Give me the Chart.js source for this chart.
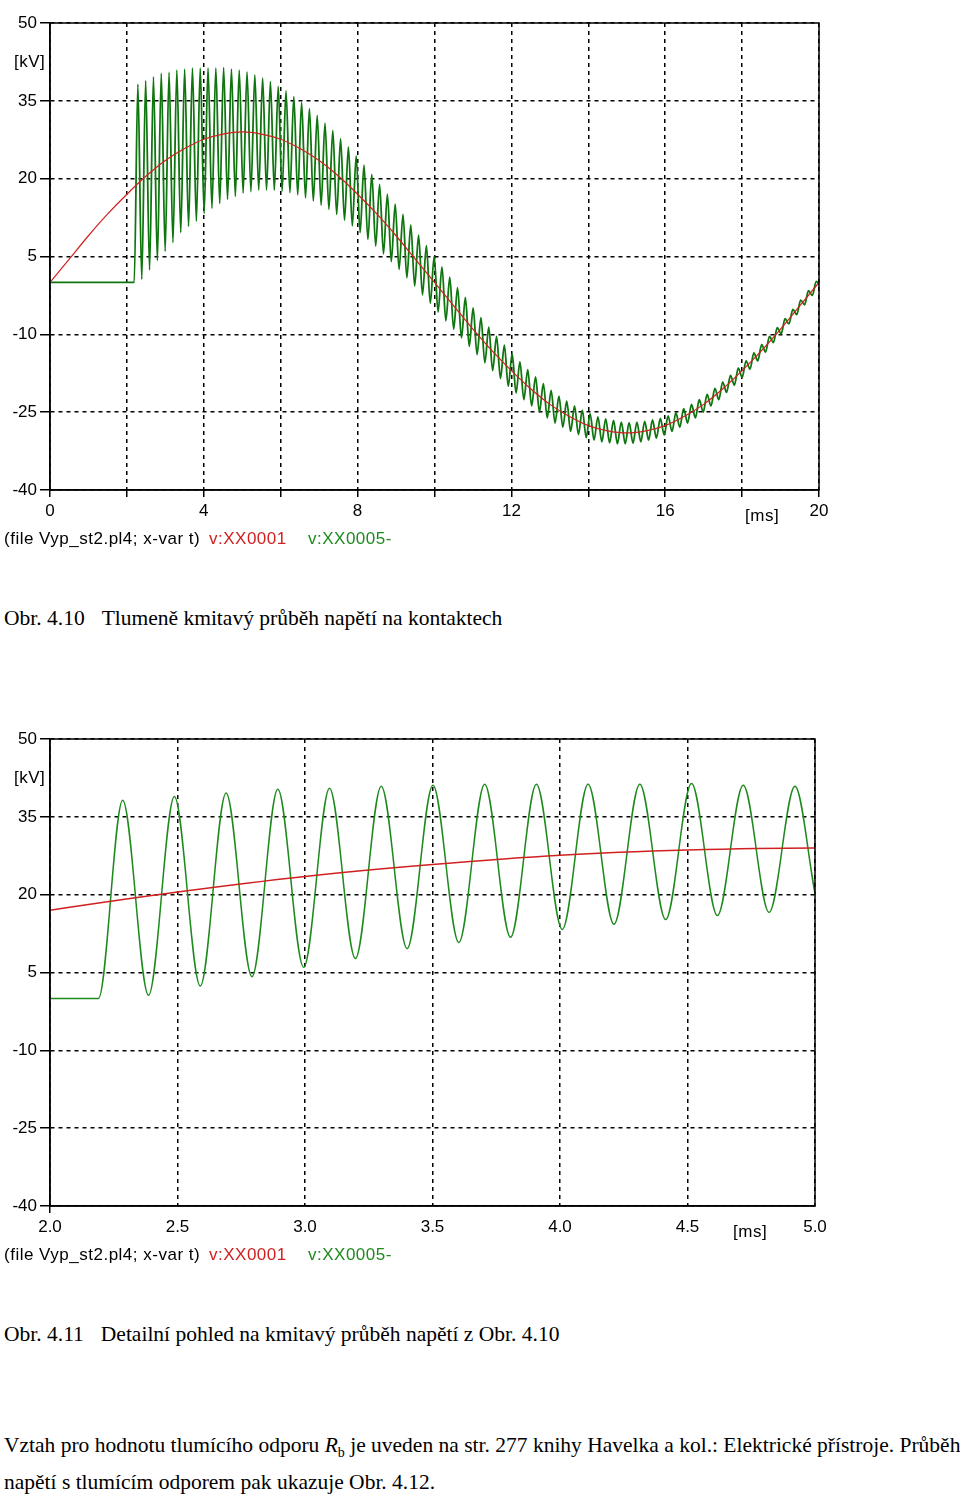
<!DOCTYPE html>
<html lang="cs">
<head>
<meta charset="utf-8">
<title>Obr. 4.10 a 4.11</title>
<script src="https://cdn.jsdelivr.net/npm/chart.js@4.4.0/dist/chart.umd.min.js"></script>
<style>
  body { margin: 0; background: #fff; width: 960px; height: 1496px; position: relative; overflow: hidden;
         font-family: "Liberation Sans", Arial, sans-serif; color: #000; }
  .panel { position: absolute; left: 0; width: 840px; height: 555px; }
  #p1 { top: 0; }
  #p2 { top: 716px; }
  canvas { position: absolute; left: 0; top: 0; }
  .lbl { position: absolute; font-size: 17px; letter-spacing: 0.5px; line-height: 20px; white-space: nowrap; }
  .red { color: #d02020; }
  .green { color: #1e8a1e; }
  .cap { position: absolute; left: 4px; font-family: "Liberation Serif", "Times New Roman", serif;
         font-size: 21.5px; line-height: 26px; white-space: nowrap; }
  .tab { display: inline-block; width: 17px; }
</style>
</head>
<body>

<div class="panel" id="p1">
  <canvas id="graf1" width="840" height="555"></canvas>
  <div class="lbl" style="left:14px; top:52px;">[kV]</div>
  <div class="lbl" style="left:745px; top:506px;">[ms]</div>
  <div class="lbl" style="left:4px; top:529px;">(file Vyp_st2.pl4; x-var t)</div>
  <div class="lbl red" style="left:209px; top:529px;">v:XX0001</div>
  <div class="lbl green" style="left:308px; top:529px;">v:XX0005-</div>
</div>
<div class="cap" style="top:605px;">Obr. 4.10<span class="tab"></span>Tlumeně kmitavý průběh napětí na kontaktech</div>

<div class="panel" id="p2">
  <canvas id="graf2" width="840" height="555"></canvas>
  <div class="lbl" style="left:14px; top:52px;">[kV]</div>
  <div class="lbl" style="left:733px; top:506px;">[ms]</div>
  <div class="lbl" style="left:4px; top:529px;">(file Vyp_st2.pl4; x-var t)</div>
  <div class="lbl red" style="left:209px; top:529px;">v:XX0001</div>
  <div class="lbl green" style="left:308px; top:529px;">v:XX0005-</div>
</div>
<div class="cap" style="top:1321px;">Obr. 4.11<span class="tab"></span>Detailní pohled na kmitavý průběh napětí z Obr. 4.10</div>

<div class="cap" style="top:1432px;">Vztah pro hodnotu tlumícího odporu <i>R</i><sub style="font-size:14px;">b</sub> je uveden na str. 277 knihy Havelka a kol.: Elektrické přístroje. Průběh</div>
<div class="cap" style="top:1469px;">napětí s tlumícím odporem pak ukazuje Obr. 4.12.</div>

<script>
// v:XX0001 - napeti site (cervena), odecteno po 0.5 ms
const redTimes = [0, 0.5, 1, 1.5, 2, 2.5, 3, 3.5, 4, 4.5, 5, 5.5, 6, 6.5, 7, 7.5, 8, 8.5, 9, 9.5, 10,
  10.5, 11, 11.5, 12, 12.5, 13, 13.5, 14, 14.5, 15, 15.5, 16, 16.5, 17, 17.5, 18, 18.5, 19, 19.5, 20];
const redValues = [0, 4.5, 9.0, 13.2, 17.0, 20.5, 23.5, 25.8, 27.6, 28.6, 29.0, 28.6, 27.6, 25.8, 23.5, 20.5, 17.0, 13.2, 9.0, 4.5, 0,
  -4.5, -9.0, -13.2, -17.0, -20.5, -23.5, -25.8, -27.6, -28.6, -29.0, -28.6, -27.6, -25.8, -23.5, -20.5, -17.0, -13.2, -9.0, -4.5, 0];

// v:XX0005- - napeti na kontaktech (zelena)
const greenFlatTimes = [0, 2.19];
const greenFlatValues = [0, 0];
const greenFirstPeak = 2.285;   // ms
const greenPeriod = 0.2028;     // ms, perioda kmitu
// vrcholy a minima kazdeho kmitu
const greenPeaks = [38.2, 38.9, 39.6, 40.3, 40.5, 40.9, 41.1, 41.3, 41.3, 41.3, 41.3, 41.4, 41.1, 40.9,
  40.6, 40.0, 39.4, 38.7, 37.8, 36.9, 35.8, 34.7, 33.5, 32.2, 30.7, 29.3, 27.7, 26.1, 24.4, 22.6,
  20.8, 18.9, 17.0, 15.1, 13.1, 11.1, 9.1, 7.1, 5.0, 3.0, 1.0, -1.0, -2.9, -4.9, -6.8, -8.6,
  -10.4, -12.1, -13.7, -15.3, -16.8, -18.2, -19.5, -20.8, -21.9, -22.9, -23.8, -24.6, -25.3, -25.9,
  -26.3, -26.6, -26.9, -27.0, -26.9, -26.8, -26.5, -26.2, -25.7, -25.1, -24.3, -23.5, -22.6, -21.6,
  -20.4, -19.2, -17.9, -16.5, -15.1, -13.6, -12.0, -10.4, -8.7, -7.0, -5.2, -3.4, -1.6, 0.2];
const greenTroughs = [0.6, 2.4, 4.2, 6.0, 7.7, 9.6, 10.8, 11.8, 13.3, 14.3, 15.2, 16.0, 16.6, 17.2,
  17.5, 17.8, 17.8, 17.8, 17.6, 17.3, 16.9, 16.3, 15.7, 14.9, 14.1, 13.1, 12.0, 10.9, 9.6, 8.3,
  7.0, 5.5, 4.0, 2.5, 0.9, -0.7, -2.4, -4.0, -5.7, -7.4, -9.0, -10.7, -12.3, -13.9, -15.5, -17.0,
  -18.5, -20.0, -21.3, -22.6, -23.8, -25.0, -26.1, -27.1, -27.9, -28.7, -29.3, -29.9, -30.4, -30.7,
  -30.9, -31.1, -31.1, -31.0, -30.7, -30.4, -30.0, -29.4, -28.7, -27.9, -27.1, -26.1, -25.0, -23.8,
  -22.6, -21.2, -19.8, -18.3, -16.7, -15.1, -13.4, -11.6, -9.9, -8.0, -6.2, -4.3, -2.5, -0.6];

const yMin = -40, yMax = 50, yStep = 15;

const RED = '#d02020';
const GREEN = '#1e8a1e';
const GREEN_DARK = '#0f760f';

Chart.defaults.color = '#000';
Chart.defaults.font.family = '"Liberation Sans", Arial, sans-serif';
Chart.defaults.font.size = 17;

function redPoints() {
  return redTimes.map((t, i) => ({ x: t, y: redValues[i] }));
}

function greenPoints() {
  const pts = greenFlatTimes.map((t, i) => ({ x: t, y: greenFlatValues[i] }));
  for (let i = 0; i < greenPeaks.length; i++) {
    const t = greenFirstPeak + i * greenPeriod;
    pts.push({ x: t, y: greenPeaks[i] });
    pts.push({ x: t + greenPeriod / 2, y: greenTroughs[i] });
  }
  return pts;
}

// ramecek kolem grafu
const ramecek = {
  id: 'ramecek',
  afterDatasetsDraw(chart) {
    const a = chart.chartArea;
    const ctx = chart.ctx;
    ctx.save();
    ctx.strokeStyle = '#000';
    ctx.lineWidth = 1.5;
    ctx.strokeRect(a.left, a.top, a.right - a.left, a.bottom - a.top);
    ctx.restore();
  }
};

function vytvorGraf(id, xMin, xMax, xStep, popisek, padRight, greenColor, greenWidth, redWidth, tickColorX) {
  const ctx = document.getElementById(id).getContext('2d');
  return new Chart(ctx, {
    type: 'line',
    data: {
      datasets: [
        { label: 'v:XX0001', data: redPoints(), borderColor: RED, borderWidth: redWidth,
          pointRadius: 0, cubicInterpolationMode: 'monotone', fill: false },
        { label: 'v:XX0005-', data: greenPoints(), borderColor: greenColor, borderWidth: greenWidth,
          pointRadius: 0, cubicInterpolationMode: 'monotone', fill: false }
      ]
    },
    options: {
      responsive: false,
      animation: false,
      devicePixelRatio: 1,
      layout: { padding: { top: 23, right: padRight, left: 0, bottom: 0 } },
      plugins: { legend: { display: false }, tooltip: { enabled: false } },
      scales: {
        x: {
          type: 'linear', min: xMin, max: xMax,
          ticks: { stepSize: xStep, autoSkip: false, maxRotation: 0, padding: 4, callback: popisek },
          grid: { color: '#000', lineWidth: 1.5, tickLength: 7, tickColor: tickColorX, tickWidth: 1.5 },
          border: { display: true, color: '#000', width: 1.5, dash: [4, 4] },
          afterFit(scale) { scale.height = 65; }
        },
        y: {
          min: yMin, max: yMax,
          ticks: { stepSize: yStep, padding: 3, callback: v => String(v) },
          grid: { color: '#000', lineWidth: 1.5, tickLength: 10, tickColor: '#000', tickWidth: 1.5 },
          border: { display: true, color: '#000', width: 1.5, dash: [4, 4] },
          afterFit(scale) { scale.width = 50; }
        }
      }
    },
    plugins: [ramecek]
  });
}

vytvorGraf('graf1', 0, 20, 2, v => (v % 4 === 0 ? String(v) : ''), 21, GREEN_DARK, 1.8, 1.2, '#000');
vytvorGraf('graf2', 2, 5, 0.5, v => v.toFixed(1), 25, GREEN, 1.5, 1.5,
  c => (c.index === 0 ? '#000' : 'rgba(0,0,0,0)'));
</script>
</body>
</html>
